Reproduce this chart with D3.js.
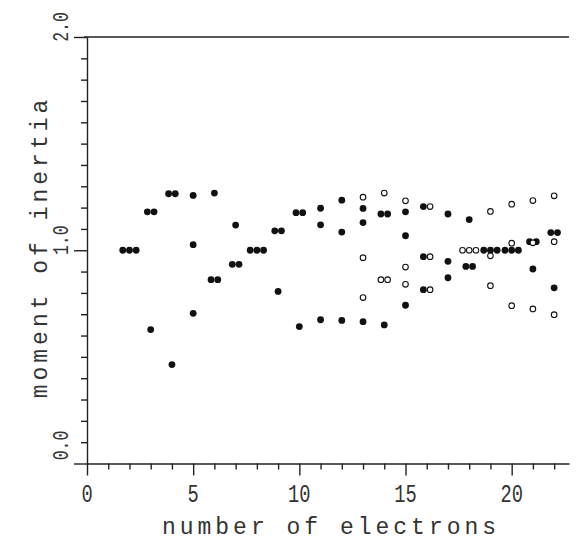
<!DOCTYPE html>
<html>
<head>
<meta charset="utf-8">
<script src="https://cdn.jsdelivr.net/npm/d3@7"></script>
<style>
  body { margin: 0; background: #fff; }
  text { font-family: "Liberation Mono", monospace; fill: #333; }
</style>
</head>
<body>
<div id="chart"></div>
<script>
// filled circles: electron number, moment, multiplicity
const filledN = [2, 3, 3, 4, 4, 5, 5, 5, 6, 6, 7, 7, 8, 9, 9, 10, 10,
  11, 11, 11, 12, 12, 12, 13, 13, 13, 14, 14, 15, 15, 15, 16, 16, 16,
  17, 17, 17, 18, 18, 19, 20, 21, 21, 22, 22];
const filledV = [1.0, 1.18, 0.628, 1.265, 0.464, 1.257, 1.026, 0.704, 1.268, 0.862, 1.118, 0.934, 1.0, 1.091, 0.807, 1.176, 0.642,
  1.197, 1.119, 0.674, 1.235, 1.085, 0.671, 1.196, 1.130, 0.665, 1.17, 0.65, 1.18, 1.068, 0.742, 1.205, 0.97, 0.815,
  1.17, 0.948, 0.871, 1.144, 0.924, 1.0, 1.0, 1.04, 0.912, 1.083, 0.824];
const filledCount = [3, 2, 1, 2, 1, 1, 1, 1, 1, 2, 1, 2, 3, 2, 1, 2, 1,
  1, 1, 1, 1, 1, 1, 1, 1, 1, 2, 1, 1, 1, 1, 1, 1, 1,
  1, 1, 1, 1, 2, 3, 3, 2, 1, 2, 1];

// open circles
const openN = [13, 13, 13, 14, 14, 15, 15, 15, 16, 16, 16, 18, 19, 19, 19, 20, 20, 20, 21, 21, 21, 22, 22, 22];
const openV = [1.249, 0.965, 0.778, 1.268, 0.862, 1.232, 0.921, 0.84, 1.205, 0.97, 0.815, 1.0, 1.182, 0.974, 0.834,
  1.216, 1.033, 0.74, 1.233, 1.035, 0.725, 1.255, 1.04, 0.698];
const openCount = [1, 1, 1, 1, 2, 1, 1, 1, 1, 1, 1, 3, 1, 1, 1, 1, 1, 1, 1, 1, 1, 1, 1, 1];

const xTicks = d3.range(0, 23, 1);
const xMajor = [0, 5, 10, 15, 20];
const yTicks = d3.range(0, 21, 1).map(d => d / 10);
const yMajor = [0, 1, 2];

let width = 576, height = 541;

const svg = d3.select("#chart").append("svg")
  .attr("width", width).attr("height", height);

let x = d3.scaleLinear().domain([0, 22.7]).range([87, 569]);
let y = d3.scaleLinear().domain([0, 2]).range([463.5, 37]);

// frame: top line
svg.append("line")
  .attr("x1", x(0) - 3).attr("x2", x(22.7))
  .attr("y1", y(2)).attr("y2", y(2))
  .attr("stroke", "#222").attr("stroke-width", 1.4);

// y axis
let ya = svg.append("g").attr("transform", `translate(${x(0)},0)`);
ya.call(d3.axisLeft(y).tickValues(yTicks).tickSize(6).tickSizeOuter(0).tickFormat(""));
ya.call(g => g.selectAll(".tick line")
  .attr("x2", d => yMajor.includes(Math.round(d * 10) / 10) ? -13 : -6));
ya.selectAll("path, line").attr("stroke", "#222").attr("stroke-width", 1.4);

// x axis
let xa = svg.append("g").attr("transform", `translate(0,${y(0)})`);
xa.call(d3.axisBottom(x).tickValues(xTicks).tickSize(6).tickSizeOuter(0).tickFormat(""));
xa.selectAll(".tick line").attr("y2", d => xMajor.includes(d) ? 12 : 6);
xa.selectAll("path, line").attr("stroke", "#222").attr("stroke-width", 1.4);

// x tick labels
svg.selectAll(".xl").data(xMajor).join("text")
  .attr("class", "xl")
  .attr("transform", d => `translate(${x(d)},502) scale(0.75,1)`)
  .attr("text-anchor", "middle")
  .style("font-size", "25px")
  .text(d => d);

// y tick labels (rotated)
svg.selectAll(".yl").data(yMajor).join("text")
  .attr("class", "yl")
  .attr("transform", d => `translate(68,${y(d) - (d === 0 ? 18 : 10)}) rotate(-90) scale(0.75,1)`)
  .attr("text-anchor", "middle")
  .style("font-size", "22px")
  .text(d => d.toFixed(1));

// axis titles
svg.append("text")
  .attr("x", 331).attr("y", 534)
  .attr("text-anchor", "middle")
  .style("font-size", "23px")
  .style("letter-spacing", "4px")
  .text("number of electrons");

svg.append("text")
  .attr("transform", "translate(47,247) rotate(-90)")
  .attr("text-anchor", "middle")
  .style("font-size", "23px")
  .style("letter-spacing", "4px")
  .text("moment of inertia");

// build point list with side-by-side offsets for degenerate values
let pts = [];
filledN.forEach((n, i) => pts.push({ n, v: filledV[i], c: filledCount[i], open: false }));
openN.forEach((n, i) => pts.push({ n, v: openV[i], c: openCount[i], open: true }));

let groups = d3.group(pts, d => d.n + "_" + d.v);
let marks = [];
for (let [, g] of groups) {
  let total = d3.sum(g, d => d.c);
  let k = 0;
  for (let d of g) {
    for (let j = 0; j < d.c; j++) {
      marks.push({ n: d.n, v: d.v, open: d.open, off: (k - (total - 1) / 2) * 6.7 });
      k++;
    }
  }
}

svg.append("g").selectAll("circle").data(marks).join("circle")
  .attr("cx", d => x(d.n) + d.off)
  .attr("cy", d => y(d.v))
  .attr("r", d => d.open ? 2.8 : 3.4)
  .attr("fill", d => d.open ? "#fff" : "#111")
  .attr("stroke", "#111")
  .attr("stroke-width", d => d.open ? 1.1 : 0);
</script>
</body>
</html>
